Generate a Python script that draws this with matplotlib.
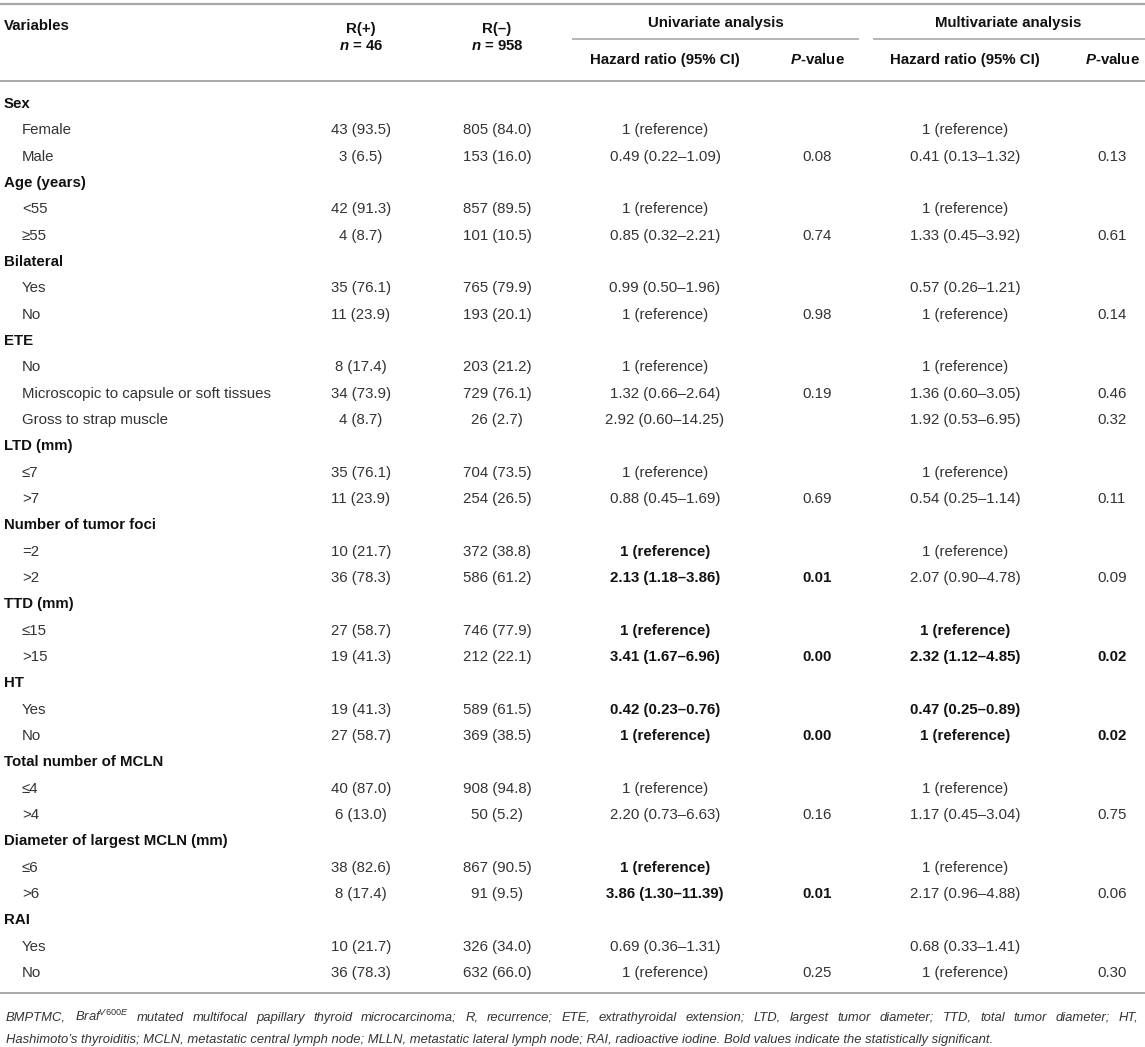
import matplotlib
matplotlib.use("Agg")
import matplotlib.pyplot as plt

plt.rcParams['font.family'] = ['Liberation Sans', 'DejaVu Sans']
plt.rcParams['mathtext.fontset'] = 'custom'
plt.rcParams['mathtext.rm'] = 'Liberation Sans'
plt.rcParams['mathtext.it'] = 'Liberation Sans:italic'
plt.rcParams['mathtext.bf'] = 'Liberation Sans:bold'
plt.rcParams['mathtext.bfit'] = 'Liberation Sans:italic:bold'

# ---------------- data ----------------
groups = ["Sex", "Age (years)", "Bilateral", "ETE", "LTD (mm)", "Number of tumor foci",
          "TTD (mm)", "HT", "Total number of MCLN", "Diameter of largest MCLN (mm)", "RAI"]
sublabels = [["Female", "Male"], ["<55", "≥55"], ["Yes", "No"],
             ["No", "Microscopic to capsule or soft tissues", "Gross to strap muscle"],
             ["≤7", ">7"], ["=2", ">2"], ["≤15", ">15"], ["Yes", "No"],
             ["≤4", ">4"], ["≤6", ">6"], ["Yes", "No"]]
r_pos = ["43 (93.5)", "3 (6.5)", "42 (91.3)", "4 (8.7)", "35 (76.1)", "11 (23.9)",
         "8 (17.4)", "34 (73.9)", "4 (8.7)", "35 (76.1)", "11 (23.9)", "10 (21.7)",
         "36 (78.3)", "27 (58.7)", "19 (41.3)", "19 (41.3)", "27 (58.7)", "40 (87.0)",
         "6 (13.0)", "38 (82.6)", "8 (17.4)", "10 (21.7)", "36 (78.3)"]
r_neg = ["805 (84.0)", "153 (16.0)", "857 (89.5)", "101 (10.5)", "765 (79.9)", "193 (20.1)",
         "203 (21.2)", "729 (76.1)", "26 (2.7)", "704 (73.5)", "254 (26.5)", "372 (38.8)",
         "586 (61.2)", "746 (77.9)", "212 (22.1)", "589 (61.5)", "369 (38.5)", "908 (94.8)",
         "50 (5.2)", "867 (90.5)", "91 (9.5)", "326 (34.0)", "632 (66.0)"]
uni_hr = ["1 (reference)", "0.49 (0.22–1.09)", "1 (reference)", "0.85 (0.32–2.21)",
          "0.99 (0.50–1.96)", "1 (reference)", "1 (reference)", "1.32 (0.66–2.64)",
          "2.92 (0.60–14.25)", "1 (reference)", "0.88 (0.45–1.69)", "1 (reference)",
          "2.13 (1.18–3.86)", "1 (reference)", "3.41 (1.67–6.96)", "0.42 (0.23–0.76)",
          "1 (reference)", "1 (reference)", "2.20 (0.73–6.63)", "1 (reference)",
          "3.86 (1.30–11.39)", "0.69 (0.36–1.31)", "1 (reference)"]
uni_p = ["", "0.08", "", "0.74", "", "0.98", "", "0.19", "", "", "0.69", "", "0.01",
         "", "0.00", "", "0.00", "", "0.16", "", "0.01", "", "0.25"]
multi_hr = ["1 (reference)", "0.41 (0.13–1.32)", "1 (reference)", "1.33 (0.45–3.92)",
            "0.57 (0.26–1.21)", "1 (reference)", "1 (reference)", "1.36 (0.60–3.05)",
            "1.92 (0.53–6.95)", "1 (reference)", "0.54 (0.25–1.14)", "1 (reference)",
            "2.07 (0.90–4.78)", "1 (reference)", "2.32 (1.12–4.85)", "0.47 (0.25–0.89)",
            "1 (reference)", "1 (reference)", "1.17 (0.45–3.04)", "1 (reference)",
            "2.17 (0.96–4.88)", "0.68 (0.33–1.41)", "1 (reference)"]
multi_p = ["", "0.13", "", "0.61", "", "0.14", "", "0.46", "0.32", "", "0.11", "", "0.09",
           "", "0.02", "", "0.02", "", "0.75", "", "0.06", "", "0.30"]
uni_bold = [11, 12, 13, 14, 15, 16, 19, 20]
multi_bold = [13, 14, 15, 16]

footnote1 = ("BMPTMC, Braf$^{V600E}$ mutated multifocal papillary thyroid microcarcinoma; "
             "R, recurrence; ETE, extrathyroidal extension; LTD, largest tumor diameter; "
             "TTD, total tumor diameter; HT,")
footnote2 = ("Hashimoto’s thyroiditis; MCLN, metastatic central lymph node; MLLN, metastatic "
             "lateral lymph node; RAI, radioactive iodine. Bold values indicate the "
             "statistically significant.")

# ---------------- layout ----------------
W, H = 1145, 1047
fig = plt.figure(figsize=(W / 100, H / 100), dpi=100)
ax = fig.add_axes([0, 0, 1, 1])
ax.set_xlim(0, W)
ax.set_ylim(H, 0)
ax.axis('off')

FS = 10.8
C_REG = '#333333'
C_BOLD = '#111111'
RULE = '#a8a8a8'

x_lab, x_sub = 4, 22
x_rp, x_rn = 361, 497
x_uh, x_up = 665, 817
x_mh, x_mp = 965, 1112

# rules
ax.plot([0, W], [4, 4], color=RULE, lw=1.6, solid_capstyle='butt')
ax.plot([0, W], [81, 81], color=RULE, lw=1.4, solid_capstyle='butt')
ax.plot([572, 859], [39, 39], color=RULE, lw=1.2, solid_capstyle='butt')
ax.plot([873, W], [39, 39], color=RULE, lw=1.2, solid_capstyle='butt')
ax.plot([0, W], [993, 993], color=RULE, lw=1.4, solid_capstyle='butt')

hk = dict(fontsize=FS, fontweight='bold', color=C_BOLD, va='center')
ax.text(x_lab, 26, "Variables", ha='left', **hk)
ax.text(x_rp, 29, "R(+)", ha='center', **hk)
ax.text(x_rn, 29, "R(–)", ha='center', **hk)
ax.text(x_rp, 46, r"$\mathbfit{n}$ = 46", ha='center', **hk)
ax.text(x_rn, 46, r"$\mathbfit{n}$ = 958", ha='center', **hk)
ax.text(716, 23, "Univariate analysis", ha='center', **hk)
ax.text(1008, 23, "Multivariate analysis", ha='center', **hk)
ax.text(x_uh, 60, "Hazard ratio (95% CI)", ha='center', **hk)
ax.text(x_up, 60, r"$\mathbfit{P}$-value", ha='center', **hk)
ax.text(x_mh, 60, "Hazard ratio (95% CI)", ha='center', **hk)
ax.text(x_mp, 60, r"$\mathbfit{P}$-value", ha='center', **hk)

y0, dy = 104, (973 - 104) / 33
row = 0
k = 0
for g, subs in zip(groups, sublabels):
    y = y0 + row * dy
    ax.text(x_lab, y, g, ha='left', **hk)
    row += 1
    for s in subs:
        y = y0 + row * dy
        rk = dict(fontsize=FS, color=C_REG, va='center')
        ax.text(x_sub, y, s, ha='left', **rk)
        ax.text(x_rp, y, r_pos[k], ha='center', **rk)
        ax.text(x_rn, y, r_neg[k], ha='center', **rk)
        ub = k in uni_bold
        mb = k in multi_bold
        uk = dict(fontsize=FS, va='center', ha='center',
                  fontweight='bold' if ub else 'normal', color=C_BOLD if ub else C_REG)
        mk = dict(fontsize=FS, va='center', ha='center',
                  fontweight='bold' if mb else 'normal', color=C_BOLD if mb else C_REG)
        ax.text(x_uh, y, uni_hr[k], **uk)
        if uni_p[k]:
            ax.text(x_up, y, uni_p[k], **uk)
        ax.text(x_mh, y, multi_hr[k], **mk)
        if multi_p[k]:
            ax.text(x_mp, y, multi_p[k], **mk)
        row += 1
        k += 1

# ---------------- footnote ----------------
renderer = fig.canvas.get_renderer()
def width_of(s, fs):
    t = ax.text(0, 0, s, fontsize=fs, style='italic')
    w = t.get_window_extent(renderer).width
    t.remove()
    return w

base = 10.0
w1 = width_of(footnote1, base)
w2 = width_of(footnote2, base)
fs_note = base * min(1132 / w1 * 0.99, 990 / w2)
nk = dict(fontsize=fs_note, style='italic', color=C_REG, va='baseline', ha='left')

# justify first line
words = footnote1.split(' ')
ww = [width_of(w, fs_note) for w in words]
total = sum(ww)
gap = (1132 - total) / (len(words) - 1)
x = 6.0
for w, wd in zip(words, ww):
    ax.text(x, 1021, w, **nk)
    x += wd + gap
ax.text(6, 1043, footnote2, **nk)

fig.savefig("out.png", dpi=100)
